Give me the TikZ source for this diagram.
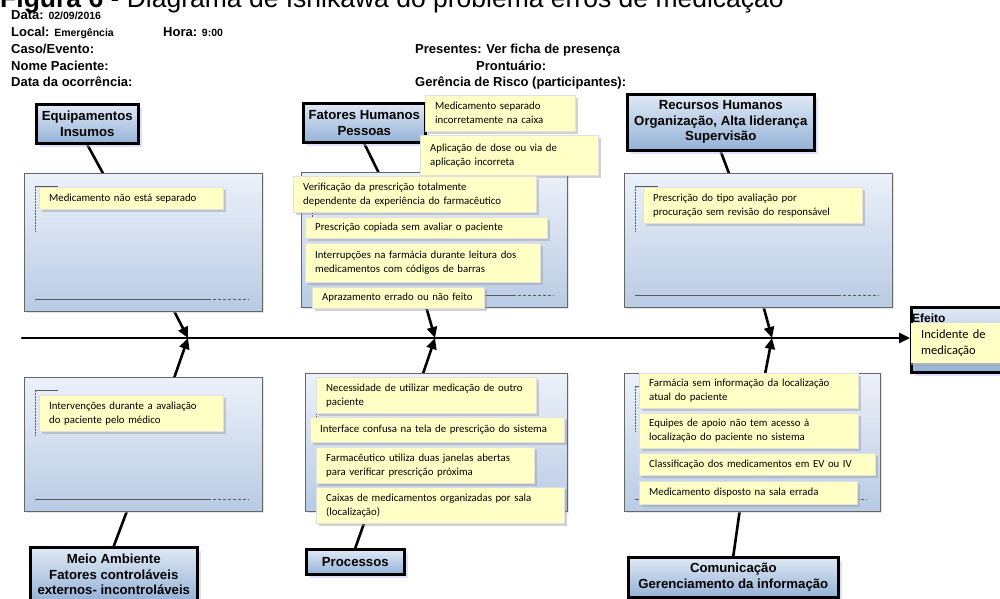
\documentclass[tikz,border=0pt]{standalone}
\usepackage{fontspec}
\setmainfont{Liberation Sans}
\newfontfamily\notefont{Carlito}
\usetikzlibrary{arrows.meta,calc,shadows,backgrounds}
\definecolor{notefill}{RGB}{255,255,198}
\definecolor{boxtop}{RGB}{236,241,249}
\definecolor{boxbot}{RGB}{184,203,228}
\definecolor{cattop}{RGB}{224,233,245}
\definecolor{catbot}{RGB}{148,178,215}
\newcommand\hv[1]{{\fontsize{10.5}{12}\selectfont #1}}
\newcommand\boxmarks[1]{%
  \draw[black!65, line width=0.7pt] ($(#1.north west)+(11,13)$) -- ++(23,0);
  \draw[black!65, line width=0.7pt, dash pattern=on 1.5pt off 1.5pt] ($(#1.north west)+(11,13)$) -- ++(0,46);
  \draw[black!65, line width=0.9pt] ($(#1.south west)+(11,-12)$) -- ($(#1.south east)+(-55,-12)$);
  \draw[black!65, line width=0.9pt, dash pattern=on 3pt off 2pt] ($(#1.south east)+(-55,-12)$) -- ($(#1.south east)+(-14,-12)$);
}
\tikzset{
  hdr/.style={anchor=base west, inner sep=0pt, font=\bfseries\fontsize{13}{15}\selectfont},
  bigbox/.style={draw=black!60, line width=0.8pt, top color=boxtop, bottom color=boxbot, anchor=north west, inner sep=0pt,
    drop shadow={shadow xshift=2pt, shadow yshift=-2pt, fill=black!20}},
  catbox/.style={draw=black, line width=2.6pt, top color=cattop, bottom color=catbot, anchor=north west, inner sep=0pt,
    align=center, font=\bfseries\fontsize{13.2}{15.5}\selectfont,
    drop shadow={shadow xshift=4pt, shadow yshift=-4pt, fill=blue!25, opacity=.5}},
  note/.style={fill=notefill, draw=black!12, anchor=north west, inner xsep=10pt, inner ysep=0pt, align=left,
    font=\notefont\fontsize{10.8}{14}\selectfont,
    drop shadow={shadow xshift=2.5pt, shadow yshift=-2.5pt, fill=black!40, opacity=.45}},
  branch/.style={line width=2.6pt, line cap=round},
  tip/.style={-{Triangle[length=11pt,width=10pt]}}
}
\begin{document}
\begin{tikzpicture}[x=1pt, y=-1pt]
\useasboundingbox (0,0) rectangle (1000,598);
\node[anchor=base west, inner sep=0pt, font=\fontsize{26.5}{28}\selectfont] (ttl) at (0,7.5) {\textbf{Figura 6} - Diagrama de Ishikawa do problema erros de medicação};
\node[hdr] (hdata) at (11,19) {Data: \hv{02/09/2016}};
\node[hdr] (hlocal) at (11,36) {Local: \hv{Emergência}};
\node[hdr] (hhora) at (163,36) {Hora: \hv{9:00}};
\node[hdr] (hcaso) at (11,53) {Caso/Evento:};
\node[hdr] (hnome) at (11,70) {Nome Paciente:};
\node[hdr] (hdoc) at (11,86) {Data da ocorrência:};
\node[hdr] (hpres) at (415,53) {Presentes: Ver ficha de presença};
\node[hdr] (hpront) at (476,70) {Prontuário:};
\node[hdr] (hger) at (415,86) {Gerência de Risco (participantes):};
\foreach \n/\x/\y/\w/\h in {bA/24/173/238/138, bB/301/172/266/135, bC/624/173/268/134,
    bD/24/377/238/134, bE/305/373/262/138, bF/624/373/256/138} {
  \node[bigbox, minimum width=\w, minimum height=\h] (\n) at (\x,\y) {};
  \boxmarks{\n}
}
\node[catbox, minimum width=102, minimum height=39] (eqp) at (35,103) {Equipamentos\\Insumos};
\node[catbox, minimum width=122, minimum height=39] (fh) at (302,102) {Fatores Humanos\\Pessoas};
\node[catbox, minimum width=187, minimum height=56] (rh) at (626,93) {Recursos Humanos\\Organização, Alta liderança\\Supervisão};
\node[catbox, minimum width=167, minimum height=54] (meio) at (29,546) {Meio Ambiente\\Fatores controláveis\\externos- incontroláveis};
\node[catbox, minimum width=98, minimum height=25] (proc) at (305,548) {Processos};
\node[catbox, minimum width=210, minimum height=40] (com) at (627,556) {Comunicação\\Gerenciamento da informação};
\foreach \i/\x/\y/\w/\h/\t in {
    1/39/187/184/22/{Medicamento não está separado},
    2/425/95/150/36/{Medicamento separado\\incorretamente na caixa},
    3/420/135/178/40/{Aplicação de dose ou via de\\aplicação incorreta},
    4/293/176/243/36/{Verificação da prescrição totalmente\\dependente da experiência do farmacêutico},
    5/305/217/242/21/{Prescrição copiada sem avaliar o paciente},
    6/305/243/235/39/{Interrupções na farmácia durante leitura dos\\medicamentos com códigos de barras},
    7/312/287/172/21/{Aprazamento errado ou não feito},
    8/643/187/219/36/{Prescrição do tipo avaliação por\\procuração sem revisão do responsável},
    9/39/395/184/36/{Intervenções durante a avaliação\\do paciente pelo médico},
    10/316/377/220/36/{Necessidade de utilizar medicação de outro\\paciente},
    11/310/417/254/25/{Interface confusa na tela de prescrição do sistema},
    12/316/447/218/36/{Farmacêutico utiliza duas janelas abertas\\para verificar prescrição próxima},
    13/316/487/248/36/{Caixas de medicamentos organizadas por sala\\(localização)},
    14/639/373/219/35/{Farmácia sem informação da localização\\atual do paciente},
    15/639/413/219/35/{Equipes de apoio não tem acesso à\\localização do paciente no sistema},
    16/639/453/236/22/{Classificação dos medicamentos em EV ou IV},
    17/639/481/218/23/{Medicamento disposto na sala errada}} {
  \pgfmathsetmacro\tw{\w-20}
  \node[note, text width=\tw pt, minimum height=\h] (n\i) at (\x,\y) {\t};
}
\node[catbox, minimum width=100, minimum height=65, line width=2.8pt] (eff) at (910,306) {};
\node[anchor=base west, inner sep=0pt, font=\bfseries\fontsize{12}{14}\selectfont] (effl) at ($(eff.north west)+(2,16)$) {Efeito};
\node[note, text width=72pt, minimum height=40, inner xsep=10pt, draw=none, font=\notefont\fontsize{12.5}{16}\selectfont,
  drop shadow={shadow xshift=0pt, shadow yshift=-2pt, fill=black!25}] (effn) at ($(eff.north west)+(1,17)$) {Incidente de\\medicação};
\coordinate (sp0) at (22,338);
\coordinate (jA) at (188,338);
\coordinate (jB) at (435,338);
\coordinate (jC) at (772,338);
\begin{pgfonlayer}{background}
\draw[branch, tip] (sp0) -- (sp0 -| eff.west);
\draw[branch] (eqp.south) -- ($(bA.north west)!.33!(bA.north east)$);
\draw[branch, tip] ($(bA.south west)!.63!(bA.south east)$) -- (jA);
\draw[branch] (meio.north) -- ($(bD.south west)!.43!(bD.south east)$);
\draw[branch, tip] ($(bD.north west)!.63!(bD.north east)$) -- (jA);
\draw[branch] (fh.south) -- ($(bB.north west)!.29!(bB.north east)$);
\draw[branch, tip] ($(bB.south west)!.47!(bB.south east)$) -- (jB);
\draw[branch] (proc.north) -- ($(bE.south west)!.24!(bE.south east)$);
\draw[branch, tip] ($(bE.north west)!.45!(bE.north east)$) -- (jB);
\draw[branch] (rh.south) -- ($(bC.north west)!.39!(bC.north east)$);
\draw[branch, tip] ($(bC.south west)!.52!(bC.south east)$) -- (jC);
\draw[branch] (com.north) -- ($(bF.south west)!.45!(bF.south east)$);
\draw[branch, tip] ($(bF.north west)!.55!(bF.north east)$) -- (jC);
\end{pgfonlayer}
\end{tikzpicture}
\end{document}
